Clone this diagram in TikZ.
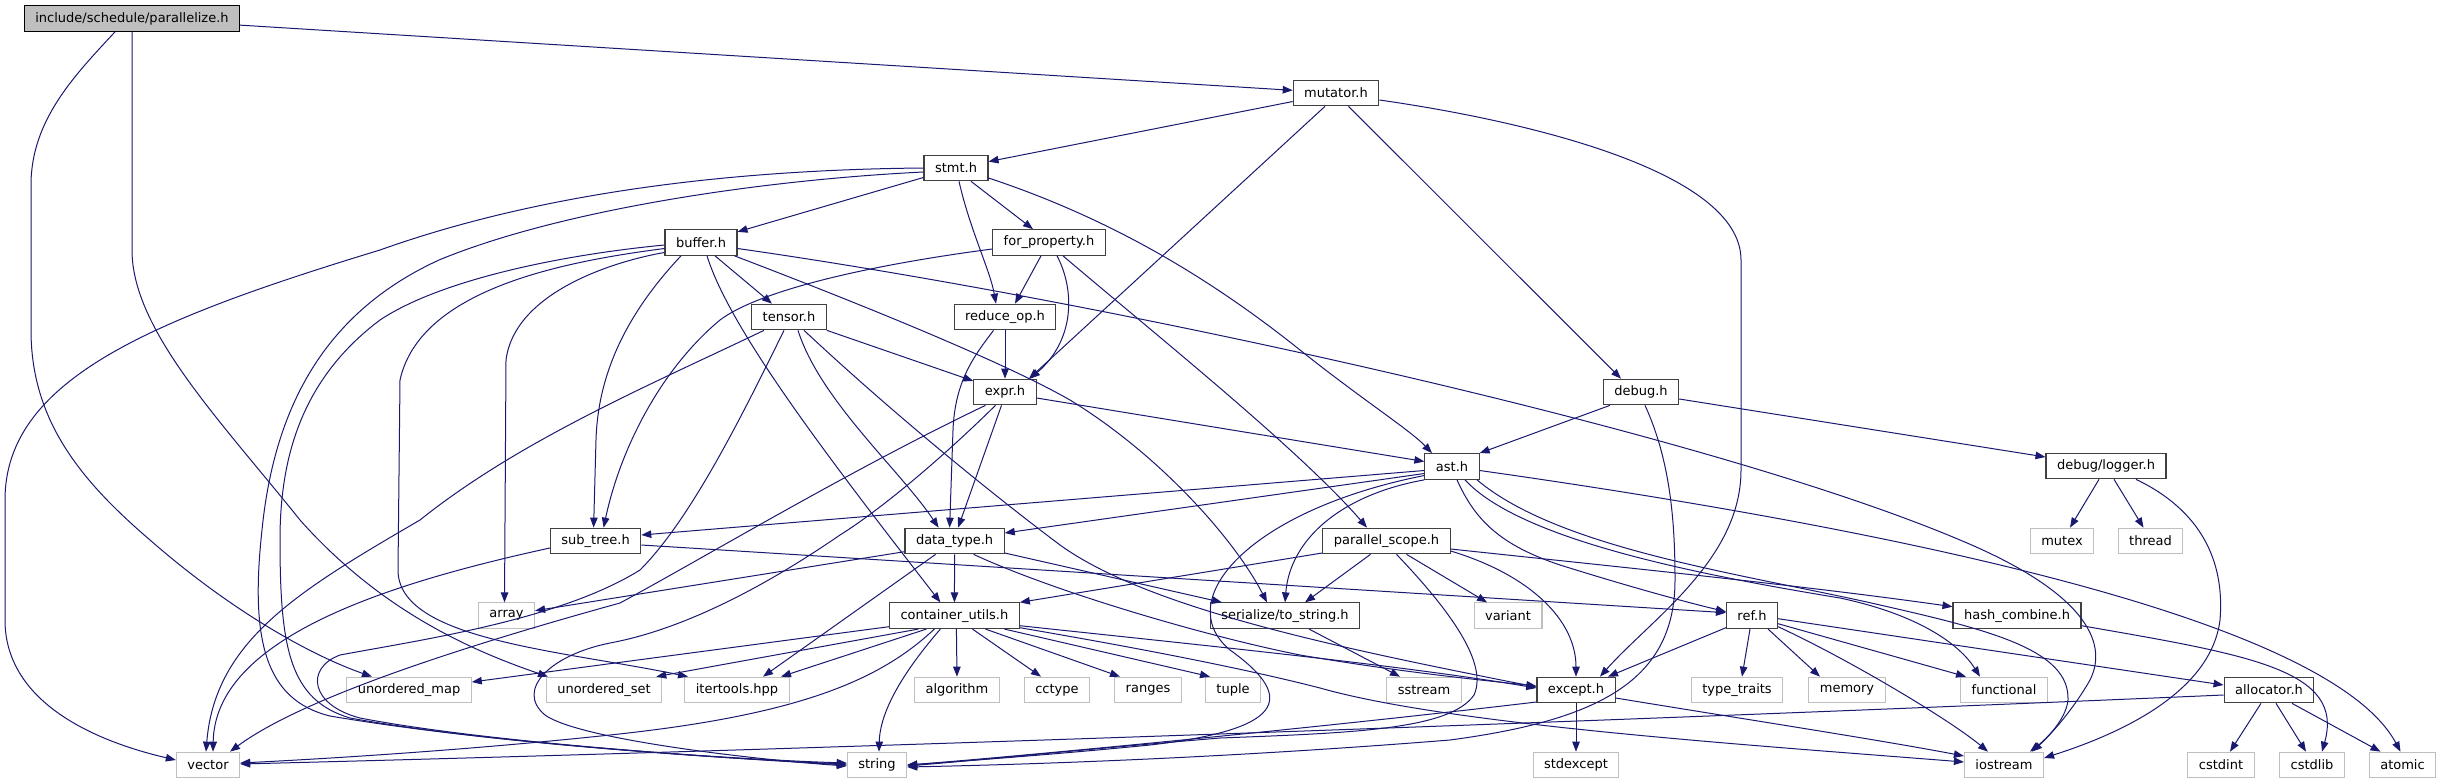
\documentclass[tikz,border=0pt]{standalone}
\usepackage{fontspec}
\setmainfont{DejaVu Sans}
\usetikzlibrary{arrows.meta}
\definecolor{edgeblue}{HTML}{191970}
\definecolor{greyseven}{HTML}{BFBFBF}
\definecolor{nodeborder}{HTML}{404040}
\tikzset{
  hnode/.style={draw=nodeborder, fill=white, line width=1.1pt, inner xsep=11pt, inner ysep=0pt,
    minimum height=25.6pt, font=\fontsize{13}{15}\selectfont, text=black},
  snode/.style={hnode, draw=greyseven},
  rnode/.style={hnode, draw=black, fill=greyseven},
  dep/.style={draw=edgeblue, line width=1pt, -{Triangle[length=10pt,width=7.5pt]}},
}
\begin{document}
\begin{tikzpicture}[x=1pt,y=-1pt]
\useasboundingbox (0,0) rectangle (2441,784);
% nodes
\node[rnode] (par) at (132,18.5) {include/schedule/parallelize.h};
\node[hnode] (mut) at (1336,93) {mutator.h};
\node[hnode] (stmt) at (956,168) {stmt.h};
\node[hnode] (buf) at (701,242.5) {buffer.h};
\node[hnode] (forp) at (1049,242.5) {for\_property.h};
\node[hnode] (tensor) at (789,317) {tensor.h};
\node[hnode] (redop) at (1005,317) {reduce\_op.h};
\node[hnode] (expr) at (1005,392) {expr.h};
\node[hnode] (debug) at (1641,392) {debug.h};
\node[hnode] (ast) at (1452,466.5) {ast.h};
\node[hnode] (logger) at (2106,466) {debug/logger.h};
\node[hnode] (subtree) at (595.6,541) {sub\_tree.h};
\node[hnode] (dtype) at (954.6,541) {data\_type.h};
\node[hnode] (pscope) at (1386.5,541) {parallel\_scope.h};
\node[snode] (mutex) at (2062,541) {mutex};
\node[snode] (thread) at (2150.5,541) {thread};
\node[snode] (array) at (506.5,615.7) {array};
\node[hnode] (cutils) at (954.4,615.7) {container\_utils.h};
\node[hnode] (tostr) at (1285,615.7) {serialize/to\_string.h};
\node[snode] (variant) at (1508,615.7) {variant};
\node[hnode] (ref) at (1752,615.7) {ref.h};
\node[hnode] (hash) at (2017,615.7) {hash\_combine.h};
\node[snode] (umap) at (409,690) {unordered\_map};
\node[snode] (uset) at (604,690) {unordered\_set};
\node[snode] (itert) at (737,690) {itertools.hpp};
\node[snode] (algo) at (957,690) {algorithm};
\node[snode] (cctype) at (1057,690) {cctype};
\node[snode] (ranges) at (1148,690) {ranges};
\node[snode] (tuple) at (1233,690) {tuple};
\node[snode] (sstream) at (1424,690) {sstream};
\node[hnode] (except) at (1576,690) {except.h};
\node[snode] (ttraits) at (1737,690) {type\_traits};
\node[snode] (memory) at (1847,690) {memory};
\node[snode] (functional) at (2004,690) {functional};
\node[hnode] (alloc) at (2269,690) {allocator.h};
\node[snode] (vector) at (208,765) {vector};
\node[snode] (string) at (877,765) {string};
\node[snode] (stdexcept) at (1576,765) {stdexcept};
\node[snode] (iostream) at (2004,765) {iostream};
\node[snode] (cstdint) at (2221,765) {cstdint};
\node[snode] (cstdlib) at (2312,765) {cstdlib};
\node[snode] (atomic) at (2402.5,765) {atomic};

% parallelize.h
\draw[dep] (par) -- (mut);
\draw[dep] ([shift={(-17,0)}]par.south) .. controls (75,75) and (31,120) .. (31,185) -- (31,330) .. controls (31,420) and (80,480) .. (150,540) .. controls (230,610) and (310,655) .. ([shift={(-37,0)}]umap.north);
\draw[dep] (par.south) -- (132,250) .. controls (132,330) and (220,420) .. (300,520) .. controls (380,610) and (470,650) .. ([shift={(-56,0)}]uset.north);
% mutator.h
\draw[dep] (mut) -- (stmt);
\draw[dep] ([shift={(-11,0)}]mut.south) -- ([shift={(24,0)}]expr.north);
\draw[dep] ([shift={(12.5,0)}]mut.south) -- ([shift={(-20,0)}]debug.north);
\draw[dep] ([shift={(0,7)}]mut.east) .. controls (1520,120) and (1741,170) .. (1741,260) -- (1741,470) .. controls (1741,560) and (1650,620) .. ([shift={(24,0)}]except.north);
% stmt.h
\draw[dep] (stmt) -- (buf);
\draw[dep] ([shift={(15,0)}]stmt.south) -- ([shift={(-16,0)}]forp.north);
\draw[dep] ([shift={(3,0)}]stmt.south) .. controls (970,230) and (990,270) .. ([shift={(-9,0)}]redop.north);
\draw[dep] ([shift={(0,10)}]stmt.east) .. controls (1100,215) and (1200,270) .. (1300,350) .. controls (1360,398) and (1410,430) .. ([shift={(-20,0)}]ast.north);
\draw[dep] (stmt.west) .. controls (700,170) and (520,200) .. (380,250) .. controls (150,320) and (5,380) .. (5,500) -- (5,620) .. controls (5,700) and (90,740) .. ([shift={(0,-5)}]vector.west);
\draw[dep] ([shift={(0,4)}]stmt.west) .. controls (760,180) and (560,210) .. (439,260) .. controls (330,310) and (275,400) .. (262,530) .. controls (250,640) and (265,700) .. (330,716) .. controls (500,745) and (750,760) .. ([shift={(0,-2)}]string.west);
% buffer.h
\draw[dep] ([shift={(14,0)}]buf.south) -- ([shift={(-17,0)}]tensor.north);
\draw[dep] ([shift={(6,0)}]buf.south) .. controls (730,330) and (830,460) .. ([shift={(-14,0)}]cutils.north);
\draw[dep] ([shift={(33.5,0)}]buf.south) .. controls (850,300) and (1000,360) .. (1070,400) .. controls (1160,455) and (1235,540) .. ([shift={(-18,0)}]tostr.north);
\draw[dep] ([shift={(0,6)}]buf.east) .. controls (1100,300) and (1700,430) .. (1960,540) .. controls (2080,590) and (2110,640) .. (2090,680) .. controls (2070,715) and (2045,740) .. ([shift={(28,0)}]iostream.north);
\draw[dep] ([shift={(-20,0)}]buf.south) .. controls (630,310) and (598,370) .. (596,440) -- ([shift={(-2,0)}]subtree.north);
\draw[dep] ([shift={(0,10)}]buf.west) .. controls (620,260) and (515,290) .. (506,360) -- ([shift={(-2,0)}]array.north);
\draw[dep] ([shift={(0,6)}]buf.west) .. controls (560,262) and (420,290) .. (400,380) -- (398,570) .. controls (398,640) and (560,650) .. ([shift={(-49,0)}]itert.north);
\draw[dep] ([shift={(0,2.5)}]buf.west) .. controls (560,255) and (440,280) .. (380,320) .. controls (300,380) and (280,460) .. (280,540) .. controls (280,650) and (290,700) .. (350,718) .. controls (500,745) and (750,760) .. ([shift={(0,-1)}]string.west);
% for_property.h
\draw[dep] ([shift={(0,6.5)}]forp.west) .. controls (870,265) and (760,290) .. (720,320) .. controls (660,370) and (620,450) .. ([shift={(8,0)}]subtree.north);
\draw[dep] ([shift={(-8,0)}]forp.south) -- ([shift={(10,0)}]redop.north);
\draw[dep] ([shift={(8,0)}]forp.south) .. controls (1075,290) and (1075,340) .. ([shift={(25,0)}]expr.north);
\draw[dep] ([shift={(14,0)}]forp.south) .. controls (1150,330) and (1300,450) .. ([shift={(-19.5,0)}]pscope.north);
% reduce_op.h
\draw[dep] (redop) -- (expr);
\draw[dep] ([shift={(-11.5,0)}]redop.south) .. controls (975,355) and (955,380) .. (953,430) -- ([shift={(-5,0)}]dtype.north);
% tensor.h
\draw[dep] (tensor.south east) -- ([shift={(0,-11)}]expr.west);
\draw[dep] ([shift={(-25,0)}]tensor.south) .. controls (650,385) and (520,440) .. (420,520) .. controls (300,590) and (215,640) .. ([shift={(-2,0)}]vector.north);
\draw[dep] ([shift={(-5,0)}]tensor.south) .. controls (740,420) and (690,520) .. (640,570) .. controls (560,620) and (420,640) .. (340,655) .. controls (305,668) and (310,705) .. (360,718) .. controls (500,745) and (760,760) .. (string.west);
\draw[dep] ([shift={(9,0)}]tensor.south) .. controls (820,400) and (900,470) .. ([shift={(-16,0)}]dtype.north);
\draw[dep] ([shift={(15,0)}]tensor.south) .. controls (900,420) and (1000,500) .. (1060,545) .. controls (1150,610) and (1350,650) .. ([shift={(0,-3)}]except.west);
% expr.h
\draw[dep] ([shift={(0,6)}]expr.east) -- ([shift={(0,-5)}]ast.west);
\draw[dep] ([shift={(-3.5,0)}]expr.south) -- ([shift={(3.5,0)}]dtype.north);
\draw[dep] ([shift={(-19.5,0)}]expr.south) .. controls (850,470) and (700,560) .. (620,603) .. controls (450,650) and (300,700) .. ([shift={(22,0)}]vector.north);
\draw[dep] ([shift={(-9.5,0)}]expr.south) .. controls (940,460) and (880,510) .. (840,535) .. controls (760,590) and (680,630) .. (610,643) .. controls (550,655) and (515,690) .. (545,715) .. controls (580,740) and (760,760) .. ([shift={(0,1)}]string.west);
% container_utils.h
\draw[dep] ([shift={(0,11)}]cutils.west) -- ([shift={(0,-8)}]umap.east);
\draw[dep] ([shift={(-36,0)}]cutils.south) -- ([shift={(-6,0)}]uset.north east);
\draw[dep] ([shift={(-28,0)}]cutils.south) -- ([shift={(44,0)}]itert.north);
\draw[dep] ([shift={(-20,0)}]cutils.south) .. controls (880,680) and (800,715) .. (610,735) .. controls (450,752) and (300,760) .. ([shift={(0,-2)}]vector.east);
\draw[dep] ([shift={(-14,0)}]cutils.south) .. controls (905,670) and (880,710) .. ([shift={(2,0)}]string.north);
\draw[dep] ([shift={(2,0)}]cutils.south) -- (algo.north);
\draw[dep] ([shift={(18,0)}]cutils.south) -- ([shift={(-16,0)}]cctype.north);
\draw[dep] ([shift={(31,0)}]cutils.south) -- ([shift={(-28,0)}]ranges.north);
\draw[dep] ([shift={(50,0)}]cutils.south) -- ([shift={(-23,0)}]tuple.north);
\draw[dep] ([shift={(0,10)}]cutils.east) .. controls (1200,645) and (1400,665) .. ([shift={(0,-2)}]except.west);
\draw[dep] ([shift={(0,12)}]cutils.east) .. controls (1150,650) and (1250,670) .. (1320,688) .. controls (1450,725) and (1750,745) .. ([shift={(0,-3)}]iostream.west);
% data_type.h
\draw[dep] (dtype) -- (cutils);
\draw[dep] ([shift={(0,10.7)}]dtype.west) -- ([shift={(0,-5)}]array.east);
\draw[dep] ([shift={(-19,0)}]dtype.south) -- ([shift={(26,0)}]itert.north);
\draw[dep] ([shift={(0,12)}]dtype.east) -- ([shift={(-63,0)}]tostr.north);
\draw[dep] ([shift={(19,0)}]dtype.south) .. controls (1050,590) and (1200,635) .. (1300,655) .. controls (1400,672) and (1480,680) .. ([shift={(0,-4)}]except.west);
% ast.h
\draw[dep] ([shift={(0,4)}]ast.west) -- ([shift={(0,-6)}]subtree.east);
\draw[dep] ([shift={(0,7)}]ast.west) -- ([shift={(0,-8)}]dtype.east);
\draw[dep] ([shift={(0,9)}]ast.west) .. controls (1250,510) and (1170,600) .. (1230,650) .. controls (1300,700) and (1280,730) .. (1150,745) .. controls (1050,755) and (950,762) .. (string.east);
\draw[dep] (ast.south west) .. controls (1340,495) and (1290,540) .. (tostr.north);
\draw[dep] ([shift={(5,0)}]ast.south) .. controls (1475,520) and (1500,545) .. (1560,565) .. controls (1640,590) and (1690,603) .. ([shift={(0,-4)}]ref.west);
\draw[dep] ([shift={(13,0)}]ast.south) .. controls (1520,540) and (1700,575) .. (1840,598) .. controls (1920,615) and (1960,645) .. ([shift={(-24,0)}]functional.north);
\draw[dep] ([shift={(25,0)}]ast.south) .. controls (1560,550) and (1750,575) .. (1880,605) .. controls (1990,630) and (2070,650) .. (2068,700) .. controls (2066,720) and (2045,740) .. ([shift={(26,0)}]iostream.north);
\draw[dep] ([shift={(0,4)}]ast.east) .. controls (1900,530) and (2330,620) .. ([shift={(-2,0)}]atomic.north);
% debug.h
\draw[dep] ([shift={(-31,0)}]debug.south) -- (ast.north east);
\draw[dep] ([shift={(0,7)}]debug.east) -- ([shift={(0,-9)}]logger.west);
\draw[dep] ([shift={(4,0)}]debug.south) .. controls (1670,460) and (1675,520) .. (1675,580) .. controls (1675,680) and (1600,720) .. (1450,740) .. controls (1200,760) and (1000,765) .. ([shift={(0,2)}]string.east);
% debug/logger.h
\draw[dep] ([shift={(-7,0)}]logger.south) -- ([shift={(8,0)}]mutex.north);
\draw[dep] ([shift={(8,0)}]logger.south) -- ([shift={(-7,0)}]thread.north);
\draw[dep] ([shift={(30,0)}]logger.south) .. controls (2200,510) and (2225,560) .. (2220,620) .. controls (2210,700) and (2100,740) .. ([shift={(0,-7)}]iostream.east);
% parallel_scope.h
\draw[dep] ([shift={(0,12)}]pscope.west) -- (cutils.north east);
\draw[dep] ([shift={(-16,0)}]pscope.south) -- ([shift={(20,0)}]tostr.north);
\draw[dep] ([shift={(20,0)}]pscope.south) -- ([shift={(-21,0)}]variant.north);
\draw[dep] ([shift={(10,0)}]pscope.south) .. controls (1440,600) and (1490,660) .. (1474,695) .. controls (1450,730) and (1350,733) .. (1220,738) .. controls (1100,748) and (980,760) .. ([shift={(0,1)}]string.east);
\draw[dep] ([shift={(0,10)}]pscope.east) .. controls (1530,575) and (1576,620) .. (except.north);
\draw[dep] ([shift={(0,8)}]pscope.east) .. controls (1600,565) and (1800,585) .. ([shift={(0,-9)}]hash.west);
% ref.h
\draw[dep] ([shift={(0,12)}]ref.west) -- ([shift={(32,0)}]except.north);
\draw[dep] ([shift={(-2,0)}]ref.south) -- ([shift={(5,0)}]ttraits.north);
\draw[dep] ([shift={(16,0)}]ref.south) -- ([shift={(-27,0)}]memory.north);
\draw[dep] ([shift={(0,3)}]ref.east) -- ([shift={(0,-5)}]alloc.west);
\draw[dep] ([shift={(0,8)}]ref.east) -- ([shift={(-38,0)}]functional.north);
\draw[dep] ([shift={(0,11)}]ref.east) .. controls (1850,660) and (1950,720) .. ([shift={(-16,0)}]iostream.north);
% hash_combine.h
\draw[dep] ([shift={(0,10)}]hash.east) .. controls (2250,655) and (2345,670) .. ([shift={(10,0)}]cstdlib.north);
% allocator.h
\draw[dep] ([shift={(-8,0)}]alloc.south) -- ([shift={(9,0)}]cstdint.north);
\draw[dep] ([shift={(7,0)}]alloc.south) -- ([shift={(-6,0)}]cstdlib.north);
\draw[dep] ([shift={(23,0)}]alloc.south) -- ([shift={(-22,0)}]atomic.north);
\draw[dep] ([shift={(0,5)}]alloc.west) .. controls (1600,722) and (800,750) .. ([shift={(0,-1)}]vector.east);
% except.h
\draw[dep] (except.south) -- (stdexcept.north);
\draw[dep] ([shift={(0,12)}]except.west) .. controls (1300,730) and (1000,758) .. ([shift={(0,0)}]string.east);
\draw[dep] ([shift={(0,8)}]except.east) .. controls (1750,720) and (1880,740) .. ([shift={(0,-9)}]iostream.west);
% serialize/to_string.h
\draw[dep] ([shift={(24,0)}]tostr.south) -- ([shift={(-24,0)}]sstream.north);
% sub_tree.h
\draw[dep] ([shift={(0,7)}]subtree.west) .. controls (380,585) and (215,640) .. ([shift={(5,0)}]vector.north);
\draw[dep] ([shift={(0,4)}]subtree.east) -- ([shift={(0,-3)}]ref.west);
\end{tikzpicture}
\end{document}
